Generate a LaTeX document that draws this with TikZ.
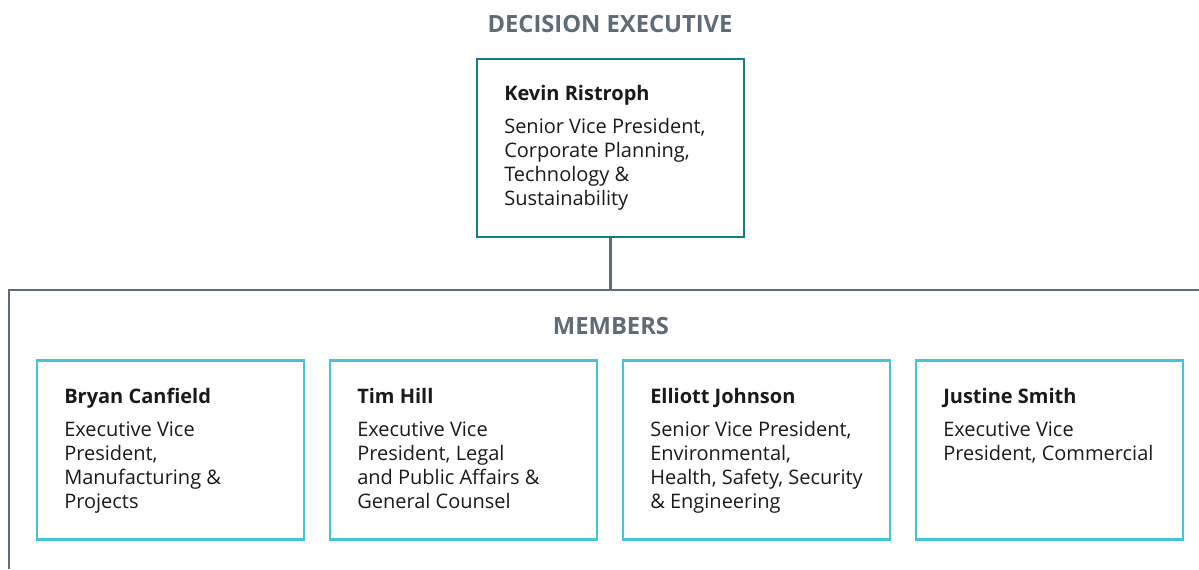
\documentclass[tikz,border=0pt]{standalone}
\usepackage{fontspec}
\setmainfont{Open Sans}
\usetikzlibrary{backgrounds,shapes}
\pgfdeclarelayer{edgelayer}
\pgfdeclarelayer{nodelayer}
\pgfsetlayers{edgelayer,nodelayer,main}
\definecolor{slate}{HTML}{5F6B76}
\definecolor{teal}{HTML}{127C8C}
\definecolor{cyan}{HTML}{44C5D7}
\definecolor{ink}{HTML}{1A1A1A}
\tikzset{font=\fontsize{15pt}{18pt}\selectfont}
\tikzstyle{none}=[inner sep=0pt]
\tikzstyle{heading}=[inner sep=0pt,anchor=base,text=slate,font=\fontsize{17.8pt}{20pt}\selectfont\bfseries]
\tikzstyle{chairbox}=[rectangle,draw=teal,line width=1.5pt,minimum width=200.25pt,minimum height=133.5pt]
\tikzstyle{memberbox}=[rectangle,draw=cyan,line width=1.8pt,minimum width=200.25pt,minimum height=134.25pt]
\tikzstyle{boxtext}=[inner sep=0pt,anchor=north west,align=left,text=ink]
\tikzstyle{rule}=[draw=slate,line width=1.9pt]

\begin{document}
\begin{tikzpicture}[x=0.75pt,y=-0.75pt]
	\useasboundingbox (0,0) rectangle (1199,569);
	\begin{pgfonlayer}{nodelayer}
		\node [style=heading] (0) at (610, 32) {DECISION EXECUTIVE};
		\node [style=chairbox] (1) at (610.5, 148) {};
		\node [style=boxtext] (2) at (504, 85) {\textbf{Kevin Ristroph}\\[6.4pt]Senior Vice President,\\Corporate Planning,\\Technology \&\\Sustainability};
		\node [style=heading] (3) at (611, 334) {MEMBERS};
		\node [style=memberbox] (4) at (170.5, 450) {};
		\node [style=memberbox] (5) at (463.5, 450) {};
		\node [style=memberbox] (6) at (756.5, 450) {};
		\node [style=memberbox] (7) at (1049.5, 450) {};
		\node [style=boxtext] (8) at (64, 388) {\textbf{Bryan Canfield}\\[6.4pt]Executive Vice\\President,\\Manufacturing \&\\Projects};
		\node [style=boxtext] (9) at (357, 388) {\textbf{Tim Hill}\\[6.4pt]Executive Vice\\President, Legal\\and Public Affairs \&\\General Counsel};
		\node [style=boxtext] (10) at (650, 388) {\textbf{Elliott Johnson}\\[6.4pt]Senior Vice President,\\Environmental,\\Health, Safety, Security\\\& Engineering};
		\node [style=boxtext] (11) at (943, 388) {\textbf{Justine Smith}\\[6.4pt]Executive Vice\\President, Commercial};
		\node [style=none] (12) at (9, 569) {};
		\node [style=none] (13) at (9, 290) {};
		\node [style=none] (14) at (1199, 290) {};
		\node [style=none] (15) at (610.5, 290) {};
	\end{pgfonlayer}
	\begin{pgfonlayer}{edgelayer}
		\draw [style=rule] (12.center) to (13.center) to (14.center);
		\draw [style=rule] (1.south) to (15.center);
	\end{pgfonlayer}
\end{tikzpicture}
\end{document}
